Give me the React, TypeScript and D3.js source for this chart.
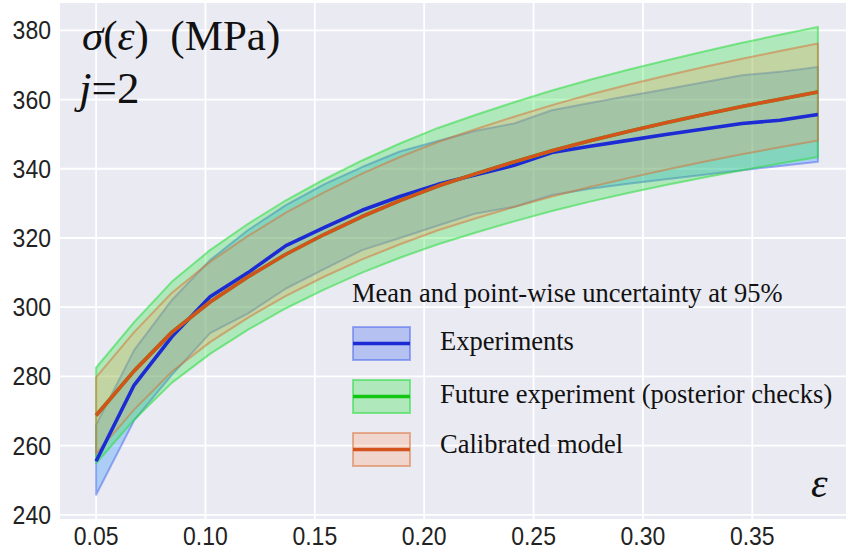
import React from "react";
import * as d3 from "d3";

// ---- data ----
const strain = [0.05, 0.0674, 0.0847, 0.1021, 0.1195, 0.1368, 0.1542, 0.1716, 0.1889, 0.2063,
  0.2237, 0.2411, 0.2584, 0.2758, 0.2932, 0.3105, 0.3279, 0.3453, 0.3626, 0.38];

const expMean = [255.5, 277.5, 291.5, 303, 310, 317.8, 323, 328, 332, 335.5,
  338.3, 341, 344.7, 346.5, 348.2, 349.9, 351.5, 353.1, 354.0, 355.7];
const expUpper = [266, 287.6, 302.1, 313.6, 322.3, 329.5, 335.5, 340.5, 345, 348,
  351, 353.1, 356.9, 359, 361, 363, 365, 367, 368, 369.4];
const expLower = [245.8, 267.3, 280.5, 292.5, 298.2, 305.4, 311, 316.5, 320, 323.6,
  327.1, 329, 332.4, 334.2, 335.7, 337, 338.3, 339.6, 340.8, 342];

const modelMean = [268.7, 281.6, 292.8, 301.5, 308.8, 315.3, 321.0, 326.2, 330.8, 335.0,
  338.6, 342.0, 345.2, 348.1, 350.8, 353.3, 355.7, 358.0, 360.1, 362.2];
const modelUpper = [279.7, 292.8, 304.2, 313.1, 320.6, 327.3, 333.2, 338.6, 343.4, 347.75,
  351.5, 355.05, 358.4, 361.45, 364.3, 366.9, 369.4, 371.8, 374.0, 376.2];
const modelLower = [257.7, 270.4, 281.4, 289.9, 297.0, 303.3, 308.8, 313.8, 318.2, 322.25,
  325.7, 328.95, 332.0, 334.75, 337.3, 339.7, 342.0, 344.2, 346.2, 348.2];

const futureMean = [268.7, 281.6, 292.8, 301.5, 308.8, 315.3, 321.0, 326.2, 330.8, 335.0,
  338.6, 342.0, 345.2, 348.1, 350.8, 353.3, 355.7, 358.0, 360.1, 362.2];
const futureUpper = [282.5, 295.7, 307.4, 316.5, 324.1, 330.9, 336.9, 342.4, 347.3, 351.8,
  355.6, 359.2, 362.6, 365.7, 368.6, 371.3, 373.9, 376.4, 378.7, 381.0];
const futureLower = [254.9, 267.5, 278.2, 286.5, 293.5, 299.7, 305.1, 310.0, 314.3, 318.2,
  321.6, 324.8, 327.8, 330.5, 333.0, 335.3, 337.5, 339.6, 341.5, 343.4];

const xTicks = [0.05, 0.1, 0.15, 0.2, 0.25, 0.3, 0.35];
const yTicks = [240, 260, 280, 300, 320, 340, 360, 380];

const legendTitle = "Mean and point-wise uncertainty at 95%";
const legendLabels = ["Experiments", "Future experiment (posterior checks)", "Calibrated model"];

// ---- styles ----
const W = 846, H = 551;
const plot = { left: 60, right: 854, top: 3, bottom: 519 };
const BG = "#EAEAF2";
const SERIF = "'Liberation Serif', 'Times New Roman', serif";
const SANS = "'Liberation Sans', Arial, sans-serif";

const series = [
  { mean: expMean, lo: expLower, hi: expUpper, fill: "rgb(30,144,255)", fillOp: 0.3, edge: "rgb(70,100,235)", edgeOp: 0.5, line: "#1c2bd4",
    legFill: "rgb(60,100,235)", legFillOp: 0.3 },
  { mean: futureMean, lo: futureLower, hi: futureUpper, fill: "rgb(40,230,60)", fillOp: 0.3, edge: "rgb(40,220,60)", edgeOp: 0.55, line: "#12c512",
    legFill: "rgb(40,230,60)", legFillOp: 0.3 },
  { mean: modelMean, lo: modelLower, hi: modelUpper, fill: "rgb(255,150,90)", fillOp: 0.25, edge: "rgb(215,110,50)", edgeOp: 0.5, line: "#d4521c",
    legFill: "rgb(255,150,90)", legFillOp: 0.25 },
];

export default function App() {
  const x = d3.scaleLinear().domain([0.0335, 0.3965]).range([plot.left, plot.right]);
  const y = d3.scaleLinear().domain([238.8, 387.9]).range([plot.bottom, plot.top]);

  const idx = d3.range(strain.length);

  const bandPath = (lo: number[], hi: number[]) => {
    const area = d3.area<number>().x((i) => x(strain[i])).y0((i) => y(lo[i])).y1((i) => y(hi[i]));
    return area(idx) as string;
  };
  const outlinePath = (lo: number[], hi: number[]) => {
    const pts: [number, number][] = [];
    idx.forEach((i) => pts.push([x(strain[i]), y(hi[i])]));
    [...idx].reverse().forEach((i) => pts.push([x(strain[i]), y(lo[i])]));
    return d3.line()(pts) + "Z";
  };
  const linePath = (v: number[]) => d3.line<number>().x((i) => x(strain[i])).y((i) => y(v[i]))(idx) as string;

  const legX = 353, legW = 57, legH = 33;
  const legRows = [327, 380, 433];
  const legBase = [350, 403, 453];

  return (
    <div style={{ position: "absolute", left: 0, top: 0 }}>
      <svg width={W} height={H} style={{ display: "block", background: "#fff" }}>
        <defs>
          <clipPath id="pc">
            <rect x={plot.left} y={plot.top} width={plot.right - plot.left} height={plot.bottom - plot.top} />
          </clipPath>
        </defs>
        <rect x={plot.left} y={plot.top} width={plot.right - plot.left} height={plot.bottom - plot.top} fill={BG} />
        {/* grid */}
        <g stroke="#fff" strokeWidth={1.8}>
          {yTicks.map((t) => (
            <line key={"gy" + t} x1={plot.left} x2={plot.right} y1={y(t)} y2={y(t)} />
          ))}
          {xTicks.map((t) => (
            <line key={"gx" + t} x1={x(t)} x2={x(t)} y1={plot.top} y2={plot.bottom} />
          ))}
        </g>
        {/* bands */}
        <g clipPath="url(#pc)">
          {series.map((s, k) => (
            <g key={"b" + k}>
              <path d={bandPath(s.lo, s.hi)} fill={s.fill} fillOpacity={s.fillOp} />
              <path d={outlinePath(s.lo, s.hi)} fill="none" stroke={s.edge} strokeOpacity={s.edgeOp} strokeWidth={2} strokeLinejoin="round" />
            </g>
          ))}
          {series.map((s, k) => (
            <path key={"m" + k} d={linePath(s.mean)} fill="none" stroke={s.line} strokeWidth={3.6} strokeLinejoin="round" />
          ))}
        </g>
        {/* ticks */}
        <g fontFamily={SANS} fontSize={25} fill="#222">
          {yTicks.map((t) => (
            <text key={"ty" + t} x={51} y={y(t) + 9} textAnchor="end" transform={`translate(${51 * 0.08},0) scale(0.92,1)`}>
              {t}
            </text>
          ))}
          {xTicks.map((t) => (
            <text key={"tx" + t} x={x(t) / 0.92} y={545} textAnchor="middle" transform="scale(0.92,1)">
              {d3.format(".2f")(t)}
            </text>
          ))}
        </g>
        {/* annotations */}
        <text x={82} y={50} fontFamily={SERIF} fontSize={43} fill="#111">
          <tspan fontStyle="italic">σ</tspan>(<tspan fontStyle="italic">ε</tspan>)
          {"\u00a0\u00a0(MPa)"}
        </text>
        <text x={79} y={103} fontFamily={SERIF} fontSize={45} fill="#111">
          <tspan fontStyle="italic">j</tspan>=2
        </text>
        <text x={811} y={497} fontFamily={SERIF} fontSize={42} fontStyle="italic" fill="#111">
          ε
        </text>
        {/* legend */}
        <g fontFamily={SERIF} fontSize={26.5} fill="#111">
          <text x={352} y={302}>{legendTitle}</text>
          {series.map((s, k) => (
            <g key={"l" + k}>
              <rect x={legX} y={legRows[k]} width={legW} height={legH} fill={s.legFill} fillOpacity={s.legFillOp}
                stroke={s.edge} strokeOpacity={s.edgeOp} strokeWidth={2} />
              <line x1={legX} x2={legX + legW} y1={legRows[k] + legH / 2} y2={legRows[k] + legH / 2} stroke={s.line} strokeWidth={3.6} />
              <text x={440} y={legBase[k]}>{legendLabels[k]}</text>
            </g>
          ))}
        </g>
      </svg>
    </div>
  );
}
